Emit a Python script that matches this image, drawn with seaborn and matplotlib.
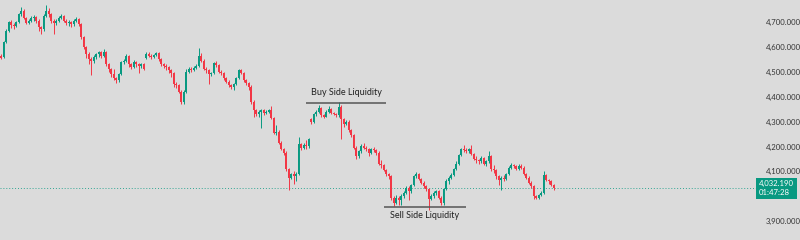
import numpy as np
import pandas as pd
import seaborn as sns
import matplotlib.pyplot as plt
import matplotlib.transforms as mtransforms
from matplotlib.ticker import FuncFormatter

# candle data (oldest first)
opens = [4565, 4560, 4620, 4665, 4700, 4688, 4682, 4698, 4730, 4745, 4715, 4695, 4705, 4715, 4720, 4705, 4680, 4670, 4725, 4745,
         4730, 4705, 4695, 4705, 4715, 4725, 4705, 4695, 4700, 4690, 4705, 4712, 4690, 4640, 4600, 4570, 4550,
         4545, 4560, 4570, 4578, 4565, 4578, 4530, 4510, 4490, 4475, 4468, 4490, 4540, 4545, 4565, 4530, 4520, 4540, 4530, 4525,
         4530, 4555, 4572, 4565, 4558, 4568, 4575, 4550, 4530, 4525, 4520, 4505, 4495, 4450, 4445, 4420, 4380, 4420, 4500,
         4512, 4508, 4515, 4525, 4565, 4545, 4512, 4505, 4490, 4495, 4535, 4528, 4500, 4495, 4475, 4460, 4445, 4438, 4450, 4475,
         4505, 4495, 4465, 4455, 4440, 4380, 4345, 4330, 4340, 4345, 4335, 4340, 4345, 4315, 4255, 4260,
         4215, 4190, 4175, 4110, 4075, 4090, 4080, 4090, 4210, 4195, 4205, 4200, 4310, 4300, 4330, 4340, 4355, 4325, 4320, 4340,
         4350, 4335, 4330, 4325, 4360, 4310, 4290, 4300, 4265, 4245, 4195, 4160, 4180, 4200, 4195, 4188, 4175, 4190,
         4185, 4175, 4130, 4125, 4105, 4090, 4080, 3995, 3975, 3995, 3985, 4000, 4015, 4035, 4020, 4045, 4080, 4090, 4070, 4055,
         4040, 4030, 3990, 4000, 4015, 4020, 3995, 3975, 4030, 4060, 4075, 4085, 4110, 4130, 4165,
         4190, 4185, 4180, 4190, 4170, 4150, 4145, 4140, 4155, 4130, 4140, 4160, 4110, 4105, 4080, 4065, 4075, 4070, 4090, 4115,
         4125, 4120, 4110, 4120, 4115, 4090, 4075, 4055, 4040, 4000, 3995, 4005, 4015, 4085, 4065, 4060, 4045]
closes = [4555, 4620, 4665, 4700, 4688, 4682, 4698, 4730, 4745, 4715, 4695, 4705, 4715, 4720, 4705, 4680, 4670, 4725, 4745, 4730,
          4705, 4695, 4705, 4715, 4725, 4705, 4695, 4700, 4690, 4705, 4712, 4690, 4640, 4600, 4570, 4550, 4545,
          4560, 4570, 4578, 4565, 4578, 4530, 4510, 4490, 4475, 4468, 4490, 4540, 4545, 4565, 4530, 4520, 4540, 4530, 4525, 4530,
          4512, 4572, 4565, 4558, 4568, 4575, 4550, 4530, 4525, 4520, 4505, 4495, 4450, 4445, 4420, 4380, 4420, 4500, 4512,
          4508, 4515, 4525, 4565, 4545, 4512, 4505, 4490, 4495, 4535, 4528, 4500, 4495, 4475, 4460, 4445, 4438, 4450, 4475, 4505,
          4495, 4465, 4455, 4440, 4380, 4345, 4330, 4340, 4345, 4335, 4340, 4345, 4315, 4255, 4260, 4215,
          4190, 4175, 4110, 4075, 4090, 4080, 4090, 4210, 4195, 4205, 4200, 4230, 4300, 4330, 4340, 4355, 4325, 4320, 4340, 4350,
          4335, 4330, 4325, 4360, 4310, 4290, 4300, 4265, 4245, 4195, 4160, 4180, 4200, 4195, 4188, 4175, 4190, 4185,
          4175, 4130, 4125, 4105, 4090, 4080, 3995, 3975, 3995, 3985, 4000, 4015, 4035, 4020, 4045, 4080, 4090, 4070, 4055, 4040,
          4030, 3990, 4000, 4015, 4020, 3995, 3975, 4030, 4060, 4075, 4085, 4110, 4130, 4165, 4190,
          4185, 4180, 4190, 4170, 4150, 4145, 4140, 4155, 4130, 4140, 4160, 4110, 4105, 4080, 4065, 4075, 4070, 4090, 4115, 4125,
          4120, 4110, 4120, 4115, 4090, 4075, 4055, 4040, 4000, 3995, 4005, 4015, 4085, 4065, 4060, 4045, 4032.19]
highs = [4570, 4625, 4670, 4705, 4706, 4695, 4702, 4735, 4760, 4750, 4720, 4712, 4725, 4728, 4725, 4710, 4685, 4730, 4768, 4755,
         4735, 4710, 4712, 4722, 4730, 4728, 4712, 4708, 4705, 4710, 4718, 4715, 4695, 4645, 4605, 4580, 4560,
         4568, 4575, 4582, 4583, 4590, 4582, 4535, 4515, 4510, 4480, 4495, 4545, 4550, 4570, 4568, 4535, 4548, 4545, 4535, 4535,
         4534, 4578, 4578, 4570, 4572, 4580, 4578, 4555, 4535, 4530, 4525, 4510, 4500, 4458, 4450, 4425, 4425, 4510, 4520,
         4520, 4522, 4530, 4596, 4575, 4550, 4518, 4510, 4500, 4540, 4545, 4532, 4505, 4498, 4480, 4465, 4450, 4455, 4480, 4512,
         4510, 4498, 4470, 4460, 4445, 4385, 4350, 4345, 4350, 4350, 4345, 4350, 4362, 4320, 4285, 4265,
         4220, 4195, 4180, 4115, 4095, 4100, 4098, 4240, 4215, 4212, 4225, 4235, 4315, 4335, 4345, 4365, 4358, 4330, 4345, 4362,
         4355, 4340, 4335, 4378, 4365, 4315, 4305, 4305, 4270, 4250, 4200, 4185, 4210, 4215, 4200, 4195, 4195, 4198,
         4190, 4180, 4145, 4130, 4110, 4095, 4085, 4000, 4005, 4000, 4008, 4020, 4040, 4040, 4050, 4085, 4098, 4095, 4075, 4060,
         4045, 4035, 4010, 4020, 4025, 4025, 4000, 4035, 4070, 4080, 4095, 4115, 4140, 4170, 4195,
         4206, 4195, 4195, 4206, 4175, 4160, 4150, 4160, 4158, 4145, 4180, 4165, 4125, 4110, 4085, 4080, 4085, 4095, 4120, 4135,
         4130, 4125, 4128, 4130, 4120, 4095, 4080, 4060, 4045, 4005, 4010, 4020, 4100, 4090, 4070, 4065, 4050]
lows = [4550, 4555, 4615, 4660, 4675, 4670, 4678, 4694, 4725, 4710, 4690, 4690, 4700, 4705, 4695, 4665, 4650, 4665, 4720, 4720,
        4695, 4650, 4688, 4700, 4710, 4698, 4688, 4685, 4680, 4685, 4698, 4685, 4630, 4590, 4555, 4530, 4485,
        4535, 4550, 4560, 4555, 4560, 4525, 4500, 4480, 4465, 4455, 4460, 4485, 4530, 4540, 4520, 4510, 4515, 4520, 4495, 4515,
        4505, 4550, 4558, 4552, 4555, 4565, 4545, 4525, 4515, 4505, 4495, 4480, 4440, 4435, 4415, 4372, 4372, 4415, 4495,
        4500, 4502, 4510, 4520, 4540, 4505, 4495, 4450, 4482, 4490, 4520, 4495, 4488, 4468, 4455, 4438, 4432, 4425, 4445, 4470,
        4490, 4460, 4448, 4425, 4370, 4320, 4322, 4320, 4275, 4328, 4330, 4335, 4310, 4250, 4245, 4210,
        4185, 4165, 4100, 4025, 4070, 4050, 4060, 4085, 4185, 4190, 4190, 4195, 4290, 4295, 4322, 4335, 4318, 4315, 4318, 4335,
        4330, 4325, 4318, 4320, 4230, 4280, 4285, 4260, 4238, 4190, 4150, 4155, 4175, 4190, 4180, 4160, 4170, 4178,
        4165, 4125, 4115, 4100, 4080, 4070, 3985, 3960, 3970, 3965, 3965, 3995, 4010, 3985, 4015, 4040, 4075, 4065, 4048, 4035,
        4020, 3945, 3985, 3995, 4005, 3990, 3965, 3965, 4025, 4050, 4070, 4080, 4105, 4125, 4160,
        4178, 4175, 4175, 4165, 4145, 4135, 4130, 4135, 4125, 4120, 4135, 4100, 4095, 4070, 4045, 4025, 4060, 4065, 4085, 4110,
        4112, 4105, 4105, 4110, 4085, 4070, 4050, 4035, 3990, 3988, 3990, 4000, 4010, 4060, 4050, 4040, 4025]

y_ticks = [3900, 4100, 4200, 4300, 4400, 4500, 4600, 4700]
last_price = closes[-1]
countdown = "01:47:28"

buy_side = {"label": "Buy Side Liquidity", "level": 4375, "start": 122, "end": 154}
sell_side = {"label": "Sell Side Liquidity", "level": 3957, "start": 153, "end": 186}

df = pd.DataFrame({"open": opens, "high": highs, "low": lows, "close": closes})
df["idx"] = np.arange(len(df))
df["up"] = df["close"] >= df["open"]

UP = "#089981"
DOWN = "#f23645"
BG = "#dbdbdb"

sns.set_theme(style="white", rc={"axes.facecolor": BG, "figure.facecolor": BG})
plt.rcParams["font.family"] = ["Lato", "DejaVu Sans"]

fig = plt.figure(figsize=(8, 2.4), dpi=100)
ax = fig.add_axes([0, 0, 756 / 800, 1])

colors = np.where(df["up"], UP, DOWN)
ax.vlines(df["idx"], df["low"], df["high"], colors=colors, lw=0.7, zorder=2)
body_bottom = df[["open", "close"]].min(axis=1)
body_h = (df["close"] - df["open"]).abs().clip(lower=1.5)
ax.bar(df["idx"], body_h, bottom=body_bottom, width=0.75, color=colors, linewidth=0, zorder=3)

# last price line + label
ax.axhline(last_price, color=UP, lw=0.7, ls=(0, (1, 2)), alpha=0.8, zorder=1)
trans = mtransforms.blended_transform_factory(ax.transAxes, ax.transData)
ax.text(1.004, last_price, f"{last_price:,.3f}\n{countdown}", transform=trans, ha="left", va="center",
        fontsize=5.6, color="white", linespacing=1.3, clip_on=False, zorder=10,
        bbox=dict(boxstyle="square,pad=0.35", fc=UP, ec="none"))

# liquidity markers
for zone, dy in [(buy_side, 40), (sell_side, -36)]:
    ax.hlines(zone["level"], zone["start"], zone["end"], color="#555555", lw=1.1, zorder=4)
    ax.text((zone["start"] + zone["end"]) / 2, zone["level"] + dy, zone["label"],
            ha="center", va="center", fontsize=6.5, color="#222222")

ax.set_xlim(-0.4, 302)
ax.set_ylim(3824.5, 4788)
ax.set_xticks([])
ax.yaxis.tick_right()
ax.set_yticks(y_ticks)
ax.yaxis.set_major_formatter(FuncFormatter(lambda v, p: f"{v:,.3f}"))
ax.tick_params(axis="y", length=0, pad=7, labelsize=5.6, labelcolor="#333333")
for s in ax.spines.values():
    s.set_visible(False)

fig.savefig("out.png", dpi=100, facecolor=BG)
